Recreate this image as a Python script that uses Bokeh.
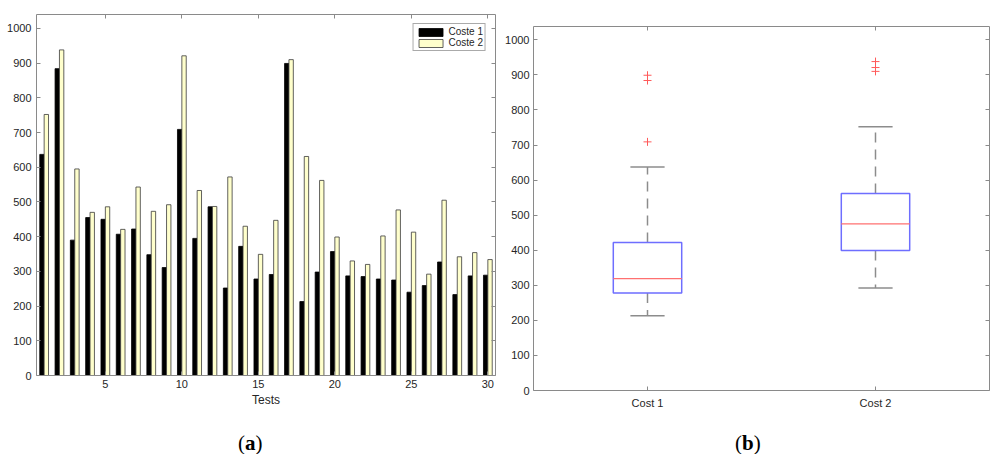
import numpy as np
from bokeh.plotting import figure
from bokeh.layouts import row, column
from bokeh.models import (ColumnDataSource, Range1d, LinearAxis, FixedTicker,
                          Legend, LegendItem, Div)
from bokeh.transform import dodge
from bokeh.embed import file_html
from bokeh.resources import INLINE

# ---------------- data ----------------
tests = list(range(1, 31))
coste1 = [637, 884, 390, 455, 450, 407, 422, 348, 311, 709,
          395, 486, 252, 372, 278, 291, 899, 213, 298, 357,
          287, 285, 278, 275, 240, 259, 327, 233, 287, 289]
coste2 = [752, 938, 595, 470, 486, 421, 543, 473, 492, 921,
          533, 487, 572, 430, 349, 447, 910, 631, 562, 399,
          330, 320, 402, 477, 413, 292, 505, 342, 354, 334]
series_names = ["Coste 1", "Coste 2"]
box_labels = ["Cost 1", "Cost 2"]
y_ticks = list(range(0, 1001, 100))
x_ticks = [5, 10, 15, 20, 25, 30]

AXIS_COL = "#8a8a8a"
TXT_COL = "#262626"
FONT = "Liberation Sans"


def style_axes(p):
    p.xgrid.visible = False
    p.ygrid.visible = False
    p.outline_line_color = None
    for ax in p.axis:
        ax.axis_line_color = AXIS_COL
        ax.major_tick_line_color = AXIS_COL
        ax.major_tick_in = 4
        ax.major_tick_out = 0
        ax.minor_tick_line_color = None
        ax.major_label_text_font = FONT
        ax.major_label_text_font_size = "11px"
        ax.major_label_text_color = TXT_COL
        ax.axis_label_text_font = FONT
        ax.axis_label_text_font_style = "normal"
        ax.axis_label_text_font_size = "12px"
        ax.axis_label_text_color = TXT_COL


def add_mirror_axes(p, xticks, yticks):
    top = LinearAxis(ticker=FixedTicker(ticks=xticks),
                     major_label_overrides={t: "" for t in xticks})
    right = LinearAxis(ticker=FixedTicker(ticks=yticks),
                       major_label_overrides={t: "" for t in yticks})
    for ax in (top, right):
        ax.major_label_text_color = None
        ax.major_label_text_font_size = "1px"
        ax.major_label_standoff = 0
        ax.axis_line_color = AXIS_COL
        ax.major_tick_line_color = AXIS_COL
        ax.major_tick_in = 4
        ax.major_tick_out = 0
        ax.minor_tick_line_color = None
    p.add_layout(top, "above")
    p.add_layout(right, "right")


def panel_div(letter, width, pad_left):
    html = ('<div style="padding-left:%dpx; padding-top:10px; '
            'font-family:\'Liberation Serif\', serif; font-size:21px; '
            'line-height:24px; color:black; white-space:nowrap;">'
            '(<b>%s</b>)</div>' % (pad_left, letter))
    return Div(text=html, width=width, height=33, margin=0)


PLOT_H = 421

# ---------------- (a) grouped bars ----------------
src = ColumnDataSource(dict(t=tests, c1=coste1, c2=coste2))
p1 = figure(width=500, height=PLOT_H, x_range=Range1d(0.5, 30.5),
            y_range=Range1d(0, 1040), output_backend="svg",
            toolbar_location=None, min_border_left=36, min_border_right=5,
            min_border_top=14, min_border_bottom=46, frame_align=False)
r1 = p1.vbar(x=dodge("t", -0.143, range=p1.x_range), top="c1", width=0.286,
             source=src, fill_color="black", line_color="black", line_width=0.8)
r2 = p1.vbar(x=dodge("t", 0.143, range=p1.x_range), top="c2", width=0.286,
             source=src, fill_color="#ffffcc", line_color="#3a3a3a", line_width=0.8)
p1.xaxis.ticker = FixedTicker(ticks=x_ticks)
p1.yaxis.ticker = FixedTicker(ticks=y_ticks)
p1.xaxis.axis_label = "Tests"
p1.xaxis.major_label_standoff = 4
p1.xaxis.axis_label_standoff = 2
p1.yaxis.major_label_standoff = 5
style_axes(p1)
add_mirror_axes(p1, x_ticks, y_ticks)

legend = Legend(items=[LegendItem(label=series_names[0], renderers=[r1]),
                       LegendItem(label=series_names[1], renderers=[r2])],
                location="top_right")
legend.margin = 9
legend.padding = 2
legend.spacing = 0
legend.glyph_width = 30
legend.glyph_height = 10
legend.label_height = 10
legend.label_standoff = 3
legend.label_text_font = FONT
legend.label_text_font_size = "10px"
legend.label_text_color = TXT_COL
legend.border_line_color = "#555555"
legend.border_line_width = 1
legend.background_fill_color = "white"
p1.add_layout(legend)

# ---------------- (b) box plot ----------------


def mprctile(vals, pct):
    s = np.sort(np.asarray(vals, dtype=float))
    n = len(s)
    pos = n * pct / 100.0 + 0.5
    if pos <= 1:
        return s[0]
    if pos >= n:
        return s[-1]
    lo = int(np.floor(pos))
    f = pos - lo
    return s[lo - 1] + f * (s[lo] - s[lo - 1])


stats = dict(x=[], q1=[], med=[], q3=[], lo=[], hi=[])
out_x, out_y = [], []
for i, vals in enumerate([coste1, coste2]):
    q1 = mprctile(vals, 25)
    med = mprctile(vals, 50)
    q3 = mprctile(vals, 75)
    iqr = q3 - q1
    v = np.asarray(vals, dtype=float)
    inside = v[(v >= q1 - 1.5 * iqr) & (v <= q3 + 1.5 * iqr)]
    outs = v[(v < q1 - 1.5 * iqr) | (v > q3 + 1.5 * iqr)]
    stats["x"].append(i + 1)
    stats["q1"].append(q1)
    stats["med"].append(med)
    stats["q3"].append(q3)
    stats["lo"].append(inside.min())
    stats["hi"].append(inside.max())
    out_x += [i + 1] * len(outs)
    out_y += list(outs)

bsrc = ColumnDataSource(stats)
p2 = figure(width=490, height=PLOT_H, x_range=Range1d(0.5, 2.5),
            y_range=Range1d(0, 1038), output_backend="svg",
            toolbar_location=None, min_border_left=33, min_border_right=1,
            min_border_top=26, min_border_bottom=31, frame_align=False)
WH = "#8c8c8c"
p2.segment(x0="x", x1="x", y0="q3", y1="hi", source=bsrc,
           line_color=WH, line_width=1.5, line_dash="10 7")
p2.segment(x0="x", x1="x", y0="q1", y1="lo", source=bsrc,
           line_color=WH, line_width=1.5, line_dash="10 7")
p2.segment(x0=dodge("x", -0.075), x1=dodge("x", 0.075), y0="hi", y1="hi",
           source=bsrc, line_color=WH, line_width=1.5)
p2.segment(x0=dodge("x", -0.075), x1=dodge("x", 0.075), y0="lo", y1="lo",
           source=bsrc, line_color=WH, line_width=1.5)
p2.quad(left=dodge("x", -0.15), right=dodge("x", 0.15), bottom="q1", top="q3",
        source=bsrc, fill_color=None, line_color="#6e6eff", line_width=1.5)
p2.segment(x0=dodge("x", -0.15), x1=dodge("x", 0.15), y0="med", y1="med",
           source=bsrc, line_color="#ff7070", line_width=1.2)
p2.scatter(x=out_x, y=out_y, marker="cross", size=8, line_color="#ff5a5a",
           line_width=1)
p2.xaxis.ticker = FixedTicker(ticks=[1, 2])
p2.xaxis.major_label_overrides = {1: box_labels[0], 2: box_labels[1]}
p2.yaxis.ticker = FixedTicker(ticks=y_ticks)
p2.xaxis.major_label_standoff = 6
p2.yaxis.major_label_standoff = 4
style_axes(p2)
add_mirror_axes(p2, [1, 2], y_ticks)

labels_row = row(panel_div("a", 500, 238), panel_div("b", 490, 235), spacing=0)
layout = column(row(p1, p2, spacing=0), labels_row, spacing=0)
open("out.html", "w").write(file_html(layout, INLINE))
